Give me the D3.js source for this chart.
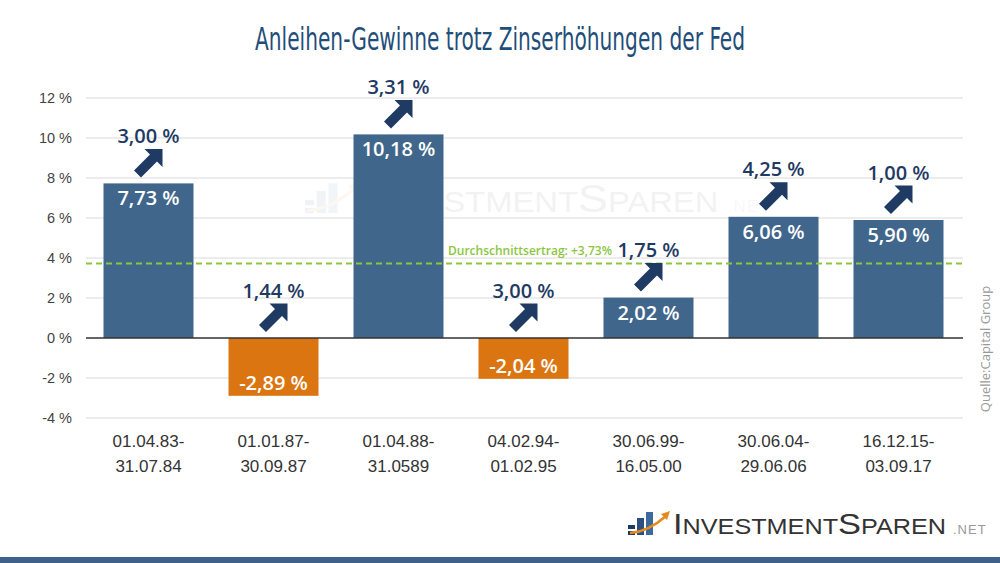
<!DOCTYPE html>
<html><head><meta charset="utf-8">
<script src="https://cdn.jsdelivr.net/npm/d3@7"></script>
<style>body{margin:0;background:#fff}svg{display:block}</style>
</head><body>
<script>
const periodStart = ["01.04.83-","01.01.87-","01.04.88-","04.02.94-","30.06.99-","30.06.04-","16.12.15-"];
const periodEnd   = ["31.07.84","30.09.87","31.0589","01.02.95","16.05.00","29.06.06","03.09.17"];
const bondReturns = [7.73,-2.89,10.18,-2.04,2.02,6.06,5.90];
const rateHikes   = [3.00,1.44,3.31,3.00,1.75,4.25,1.00];
const averageReturn = 3.73;
const yTicks = [-4,-2,0,2,4,6,8,10,12];

const W=1000,H=563;
const svg=d3.select("body").append("svg").attr("width",W).attr("height",H);
const fmt=v=>v.toFixed(2).replace(".",",")+" %";
const x=d3.scaleBand().domain(d3.range(bondReturns.length)).range([86,961]).paddingInner(0.28).paddingOuter(0.14);
const y=d3.scaleLinear().domain([-4,12]).range([418,98]);

// title
svg.append("text").attr("x",500).attr("y",50).attr("text-anchor","middle")
  .attr("font-family","'Liberation Sans Narrow','DejaVu Sans Condensed',sans-serif").attr("font-stretch","condensed")
  .attr("font-size",32).attr("fill","#1f4e79").attr("textLength",490).attr("lengthAdjust","spacingAndGlyphs")
  .text("Anleihen-Gewinne trotz Zinserhöhungen der Fed");

// logo builder
function logo(g, opacity){
  g.attr("opacity",opacity);
  const ic=g.append("g");
  ic.append("rect").attr("x",0).attr("y",17).attr("width",7).attr("height",4).attr("fill","#1f3a63");
  ic.append("rect").attr("x",0).attr("y",23).attr("width",7).attr("height",4).attr("fill","#1f3a63");
  ic.append("rect").attr("x",9).attr("y",10).attr("width",7).attr("height",17).attr("fill","#2b4f7e");
  ic.append("rect").attr("x",18).attr("y",4).attr("width",7).attr("height",23).attr("fill","#3d6a9c");
  ic.append("path").attr("d","M2,25 Q20,24 38,8").attr("fill","none").attr("stroke","#e58a1f").attr("stroke-width",2.5);
  ic.append("path").attr("d","M33,6 L42,3 L39,12 Z").attr("fill","#e58a1f");
  const t=g.append("text").attr("x",45).attr("y",26).attr("font-family","'Liberation Sans',Arial,sans-serif")
    .attr("fill","#333").attr("textLength",273).attr("lengthAdjust","spacingAndGlyphs");
  t.append("tspan").attr("font-size",30).text("I");
  t.append("tspan").attr("font-size",22).text("NVESTMENT");
  t.append("tspan").attr("font-size",30).text("S");
  t.append("tspan").attr("font-size",22).text("PAREN");
  g.append("text").attr("x",325).attr("y",26).attr("font-family","'Liberation Sans',Arial,sans-serif")
    .attr("font-size",13).attr("fill","#999").attr("letter-spacing",1).text(".NET");
}
// watermark
logo(svg.append("g").attr("transform","translate(305,178) scale(1.3)"),0.06);

// gridlines
svg.append("g").selectAll("line").data(yTicks.filter(d=>d!==0)).join("line")
  .attr("x1",86).attr("x2",963).attr("y1",d=>y(d)).attr("y2",d=>y(d))
  .attr("stroke","#e6e6e6").attr("stroke-width",1.5);
// y labels
svg.append("g").selectAll("text").data(yTicks).join("text")
  .attr("x",72).attr("y",d=>y(d)+5).attr("text-anchor","end")
  .attr("font-family","'Liberation Sans',Arial,sans-serif").attr("font-size",14.5).attr("fill","#444")
  .text(d=>d+" %");

// bars
svg.append("g").selectAll("rect").data(bondReturns).join("rect")
  .attr("x",(d,i)=>x(i)).attr("width",x.bandwidth())
  .attr("y",d=>y(Math.max(0,d))).attr("height",d=>Math.abs(y(d)-y(0)))
  .attr("fill",d=>d>=0?"#41668c":"#da7511");

// zero line
svg.append("line").attr("x1",86).attr("x2",963).attr("y1",y(0)).attr("y2",y(0)).attr("stroke","#333").attr("stroke-width",1.5);

// average line
svg.append("line").attr("x1",86).attr("x2",963).attr("y1",y(averageReturn)).attr("y2",y(averageReturn))
  .attr("stroke","#8cc63f").attr("stroke-width",2).attr("stroke-dasharray","6,4");
svg.append("text").attr("x",448).attr("y",y(averageReturn)-8)
  .attr("font-family","'Open Sans',sans-serif").attr("font-weight",600).attr("font-size",12).attr("fill","#8cc63f")
  .text("Durchschnittsertrag: +"+averageReturn.toFixed(2).replace(".",",")+"%");

// value labels in bars
svg.append("g").selectAll("text").data(bondReturns).join("text")
  .attr("x",(d,i)=>x(i)+x.bandwidth()/2)
  .attr("y",d=>d>=0?y(d)+22:y(d)-6).attr("text-anchor","middle")
  .attr("font-family","'Open Sans',sans-serif").attr("font-weight",600).attr("font-size",20).attr("fill","#fff")
  .text(d=>fmt(d));

// arrows + hike labels
const arrowPath="M28,0 L28,18 L22.5,12.5 L6.5,28.5 L-0.5,21.5 L15.5,5.5 L10,0 Z";
const ann=svg.append("g").selectAll("g").data(rateHikes).join("g")
  .attr("transform",(d,i)=>{const top=y(Math.max(0,bondReturns[i]))-6-28.5;return `translate(${x(i)+x.bandwidth()/2},${top})`;});
ann.append("path").attr("d",arrowPath).attr("transform","translate(-14,0)").attr("fill","#1f3a63");
ann.append("text").attr("x",0).attr("y",-6).attr("text-anchor","middle")
  .attr("font-family","'Open Sans',sans-serif").attr("font-weight",600).attr("font-size",20).attr("fill","#1f3a63")
  .text(d=>fmt(d));

// x labels
const xl=svg.append("g").selectAll("text").data(periodStart).join("text")
  .attr("text-anchor","middle").attr("font-family","'Liberation Sans',Arial,sans-serif").attr("font-size",17).attr("fill","#333");
xl.append("tspan").attr("x",(d,i)=>x(i)+x.bandwidth()/2).attr("y",447).text(d=>d);
xl.append("tspan").attr("x",(d,i)=>x(i)+x.bandwidth()/2).attr("y",472).text((d,i)=>periodEnd[i]);

// source
svg.append("text").attr("transform","translate(990,349) rotate(-90)").attr("text-anchor","middle")
  .attr("font-family","'Open Sans',sans-serif").attr("font-size",13).attr("fill","#999").text("Quelle:Capital Group");

// logo
logo(svg.append("g").attr("transform","translate(628,508)"),1);

// bottom band
svg.append("rect").attr("x",0).attr("y",557).attr("width",W).attr("height",6).attr("fill","#3f6189");
</script>
</body></html>
